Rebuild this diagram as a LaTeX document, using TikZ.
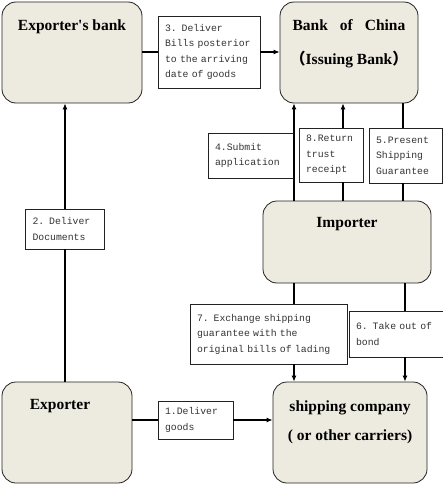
\documentclass[tikz,border=0pt]{standalone}
\usepackage{fontspec}
\setmainfont{Liberation Serif}
\setmonofont{Liberation Mono}
\newfontfamily\cjk{Noto Sans CJK SC}
\usetikzlibrary{arrows.meta,positioning}
\definecolor{boxbeige}{HTML}{EDEADF}
\definecolor{inkdark}{HTML}{222222}
\definecolor{notegrey}{HTML}{333333}

\begin{document}
\begin{tikzpicture}[x=1pt, y=-1pt,
  party/.style={draw=inkdark, line width=0.8pt, fill=boxbeige, rounded corners=14pt},
  ttl/.style={font=\bfseries\fontsize{15.5}{18}\selectfont, anchor=center,
              align=center, inner sep=0pt},
  note/.style={draw=inkdark, line width=0.6pt, fill=white, inner xsep=7pt,
               inner ysep=0pt, align=left, text=notegrey,
               font=\ttfamily\fontsize{9.8}{15.5}\selectfont},
  ln/.style={line width=1.1pt, draw=black},
  ar/.style={ln, -{Latex[length=6pt,width=5pt]}}]
\useasboundingbox (0,0) rectangle (443,484);
% the five parties
\node[party, minimum width=140pt, minimum height=101pt,
      label={[ttl, yshift=-25pt]north:Exporter\textquotesingle s bank}] (ebank) at (72,52.5) {};
\node[party, minimum width=138pt, minimum height=101pt,
      label={[ttl, yshift=-42.5pt]north:Bank\hspace{12pt}of\hspace{12pt}China\\[16pt]{\cjk （}Issuing Bank{\cjk ）}}]
      (boc) at (349,52.5) {};
\node[party, minimum width=168pt, minimum height=82pt,
      label={[ttl, yshift=-23pt]north:Importer}] (imp) at (347,242) {};
\node[party, minimum width=130pt, minimum height=101pt,
      label={[ttl, yshift=-24pt, xshift=-7pt]north:Exporter}] (exp) at (67,432.5) {};
\node[party, minimum width=154pt, minimum height=101pt,
      label={[ttl, yshift=-41pt]north:shipping company\\[11pt]( or other carriers)}]
      (ship) at (350,432.5) {};
% step notes
\node[note, text width=88pt, minimum height=72pt] (l3) at (209,52)
  {3. Deliver\\Bills posterior\\to the arriving\\date of goods};
\node[note, text width=65pt, minimum height=40pt] (l2) at (65,229)
  {2. Deliver\\Documents};
\node[note, text width=71pt, minimum height=45pt] (l4) at (250.5,155.5)
  {4.Submit\\application};
\node[note, text width=50pt, minimum height=54pt] (l8) at (331,155)
  {8.Return\\trust\\receipt};
\node[note, text width=59pt, minimum height=55pt] (l5) at (405.5,155.5)
  {5.Present\\Shipping\\Guarantee};
\node[note, text width=143pt, minimum height=60pt] (l7) at (268.5,334)
  {7. Exchange shipping\\guarantee with the\\original bills of lading};
\node[note, text width=80pt, minimum height=46pt] (l6) at (396,334)
  {6. Take out of\\bond};
\node[note, text width=61pt, minimum height=38pt] (l1) at (195.5,420)
  {1.Deliver\\goods};
% routes
\coordinate (r4) at (294,0);
\coordinate (r8) at (343,0);
\coordinate (r5) at (403,0);
\coordinate (r7) at (294,0);
\coordinate (r6) at (405,0);
\draw[ln] (ebank.east |- l3) -- (l3);
\draw[ar] (l3) -- (boc.west |- l3);
\draw[ln] (exp.north -| l2) -- (l2);
\draw[ar] (l2) -- (ebank.south -| l2);
\draw[ar] (imp.north -| r4) -- (boc.south -| r4);
\draw[ln] (imp.north -| r8) -- (l8.south -| r8);
\draw[ar] (l8.north -| r8) -- (boc.south -| r8);
\draw[ln] (imp.north -| r5) -- (l5.south -| r5);
\draw[ln] (l5.north -| r5) -- (boc.south -| r5);
\draw[ln] (imp.south -| r7) -- (l7.north -| r7);
\draw[ar] (l7.south -| r7) -- (ship.north -| r7);
\draw[ln] (imp.south -| r6) -- (l6.north -| r6);
\draw[ar] (l6.south -| r6) -- (ship.north -| r6);
\draw[ln] (exp.east |- l1) -- (l1);
\draw[ar] (l1) -- (ship.west |- l1);
\end{tikzpicture}
\end{document}
